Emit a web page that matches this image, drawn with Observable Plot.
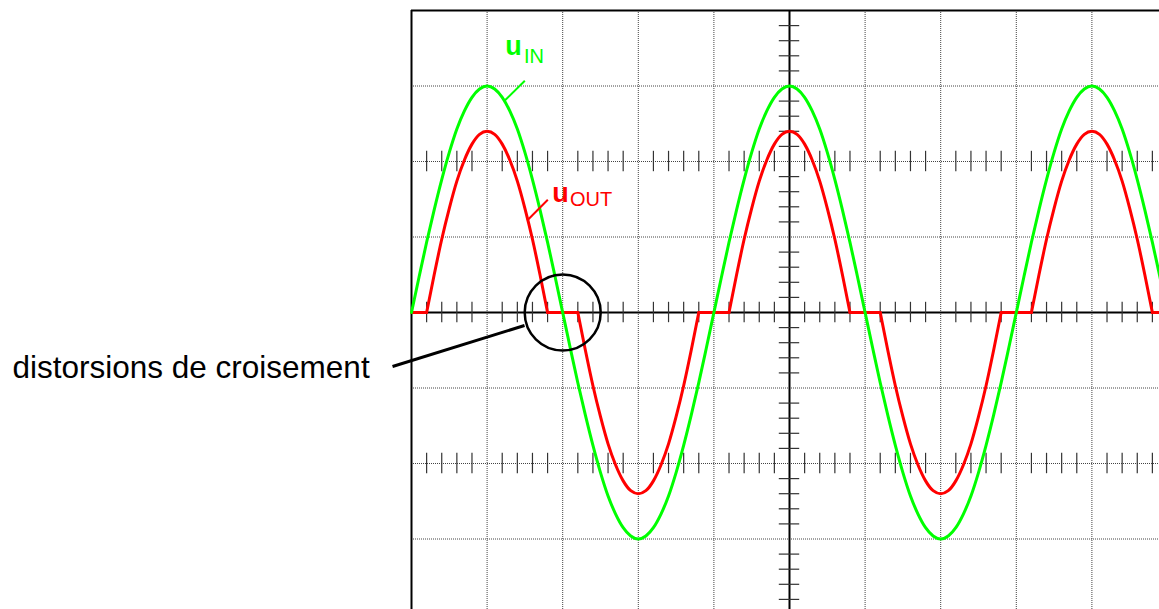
<!DOCTYPE html>
<html>
<head>
<meta charset="utf-8">
<script src="https://cdn.jsdelivr.net/npm/d3@7"></script>
<script src="https://cdn.jsdelivr.net/npm/@observablehq/plot@0.6"></script>
<style>
  html, body { margin: 0; padding: 0; background: #fff; overflow: hidden; }
  #chart svg { display: block; overflow: hidden; }
</style>
</head>
<body>
<div id="chart"></div>
<script>
// Oscilloscope screen, in divisions: input and output of a class-B push-pull stage.

// Time base (horizontal divisions)
const t = [
  0,0.1,0.2,0.3,0.4,0.5,0.6,0.7,0.8,0.9,1,1.1,1.2,1.3,1.4,1.5,1.6,1.7,1.8,1.9,
  2,2.1,2.2,2.3,2.4,2.5,2.6,2.7,2.8,2.9,3,3.1,3.2,3.3,3.4,3.5,3.6,3.7,3.8,3.9,
  4,4.1,4.2,4.3,4.4,4.5,4.6,4.7,4.8,4.9,5,5.1,5.2,5.3,5.4,5.5,5.6,5.7,5.8,5.9,
  6,6.1,6.2,6.3,6.4,6.5,6.6,6.7,6.8,6.9,7,7.1,7.2,7.3,7.4,7.5,7.6,7.7,7.8,7.9,
  8,8.1,8.2,8.3,8.4,8.5,8.6,8.7,8.8,8.9,9,9.1,9.2,9.3,9.4,9.5,9.6,9.7,9.8,9.9,10
];

// Input voltage (vertical divisions)
const uIn = [
  0,0.47,0.93,1.36,1.76,2.12,2.43,2.67,2.85,2.96,3,
  2.96,2.85,2.67,2.43,2.12,1.76,1.36,0.93,0.47,0,
  -0.47,-0.93,-1.36,-1.76,-2.12,-2.43,-2.67,-2.85,-2.96,-3,
  -2.96,-2.85,-2.67,-2.43,-2.12,-1.76,-1.36,-0.93,-0.47,0,
  0.47,0.93,1.36,1.76,2.12,2.43,2.67,2.85,2.96,3,
  2.96,2.85,2.67,2.43,2.12,1.76,1.36,0.93,0.47,0,
  -0.47,-0.93,-1.36,-1.76,-2.12,-2.43,-2.67,-2.85,-2.96,-3,
  -2.96,-2.85,-2.67,-2.43,-2.12,-1.76,-1.36,-0.93,-0.47,0,
  0.47,0.93,1.36,1.76,2.12,2.43,2.67,2.85,2.96,3,
  2.96,2.85,2.67,2.43,2.12,1.76,1.36,0.93,0.47,0
];

// Output voltage, flat around each zero crossing (crossover distortion)
const uOut = [
  0,0,0,0.5,0.97,1.38,1.74,2.02,2.23,2.36,2.4,
  2.36,2.23,2.02,1.74,1.38,0.97,0.5,0,0,0,
  0,0,-0.5,-0.97,-1.38,-1.74,-2.02,-2.23,-2.36,-2.4,
  -2.36,-2.23,-2.02,-1.74,-1.38,-0.97,-0.5,0,0,0,
  0,0,0.5,0.97,1.38,1.74,2.02,2.23,2.36,2.4,
  2.36,2.23,2.02,1.74,1.38,0.97,0.5,0,0,0,
  0,0,-0.5,-0.97,-1.38,-1.74,-2.02,-2.23,-2.36,-2.4,
  -2.36,-2.23,-2.02,-1.74,-1.38,-0.97,-0.5,0,0,0,
  0,0,0.5,0.97,1.38,1.74,2.02,2.23,2.36,2.4,
  2.36,2.23,2.02,1.74,1.38,0.97,0.5,0,0,0
];

// Graticule
const gridX = [1, 2, 3, 4, 6, 7, 8, 9];
const gridY = [-3, -2, -1, 1, 2, 3];
const centerX = 5, centerY = 0;
const frameLeft = 0, frameTop = 4;
const tickRows = [-2, 0, 2];
const minorX = d3.range(1, 50).filter(k => k % 5).map(k => k / 5);
const minorY = d3.range(-19, 20).filter(k => k % 5).map(k => k / 5);
const tickHalf = 0.135;

// Annotations (anchor points in divisions)
const labelIn = {x: 1.24, y: 3.404, sub: {x: 1.487, y: 3.311}, lead: [1.499, 3.069, 1.234, 2.808]};
const labelOut = {x: 1.862, y: 1.457, sub: {x: 2.096, y: 1.417}, lead: [1.803, 1.493, 1.530, 1.219]};
const ring = {x: 2, y: 0};
const note = {x: -5.278, y: -0.861, text: "distorsions de croisement", lead: [-0.251, -0.715, 1.495, -0.172]};

const GREEN = "#00ff00", RED = "#ff0000";
const font = "Liberation Sans, Arial, Helvetica, sans-serif";

const data = t.map((x, i) => ({
  t: x,
  uIn: uIn[i],
  uOut: uOut[i],
  // flat (clipped) stretches and conducting lobes are drawn as separate runs
  flat: uOut[i] === 0 ? 0 : NaN,
  lobe: (uOut[i] !== 0 || uOut[i - 1] || uOut[i + 1]) ? uOut[i] : NaN
}));
const marks = tickRows.flatMap(y => minorX.map(x => ({x, y})));

const chart = Plot.plot({
  width: 1159,
  height: 609,
  marginLeft: 411,
  marginRight: 0,
  marginTop: 10,
  marginBottom: 0,
  style: {background: "#fff", overflow: "hidden"},
  x: {domain: [0, 10], range: [411, 1167], axis: null},
  y: {domain: [-4, 4], range: [614, 10], axis: null},
  marks: [
    Plot.ruleX(gridX, {stroke: "#444", strokeWidth: 1, strokeDasharray: "1,1"}),
    Plot.ruleY(gridY, {stroke: "#444", strokeWidth: 1, strokeDasharray: "1,1"}),
    Plot.ruleX([frameLeft], {stroke: "#000", strokeWidth: 2}),
    Plot.ruleY([frameTop], {stroke: "#000", strokeWidth: 2}),
    Plot.ruleY([centerY], {stroke: "#000", strokeWidth: 2}),
    Plot.ruleX([centerX], {stroke: "#000", strokeWidth: 2}),
    Plot.ruleX(marks, {x: "x", y1: d => d.y - tickHalf, y2: d => d.y + tickHalf, stroke: "#333", strokeWidth: 1.2}),
    Plot.ruleY(minorY, {y: d => d, x1: centerX - tickHalf, x2: centerX + tickHalf, stroke: "#333", strokeWidth: 1.2}),
    Plot.line(data, {x: "t", y: "flat", stroke: RED, strokeWidth: 3}),
    Plot.line(data, {x: "t", y: "lobe", stroke: RED, strokeWidth: 3, curve: "monotone-x"}),
    Plot.line(data, {x: "t", y: "uIn", stroke: GREEN, strokeWidth: 3, curve: "monotone-x"}),
    Plot.link([labelIn], {x1: d => d.lead[0], y1: d => d.lead[1], x2: d => d.lead[2], y2: d => d.lead[3], stroke: GREEN, strokeWidth: 2}),
    Plot.link([labelOut], {x1: d => d.lead[0], y1: d => d.lead[1], x2: d => d.lead[2], y2: d => d.lead[3], stroke: RED, strokeWidth: 2}),
    Plot.text([labelIn], {x: "x", y: "y", text: () => "u", fill: GREEN, fontSize: 27, fontWeight: "bold", fontFamily: font, textAnchor: "start", lineAnchor: "bottom"}),
    Plot.text([labelIn], {x: d => d.sub.x, y: d => d.sub.y, text: () => "IN", fill: GREEN, fontSize: 20, fontFamily: font, textAnchor: "start", lineAnchor: "bottom"}),
    Plot.text([labelOut], {x: "x", y: "y", text: () => "u", fill: RED, fontSize: 27, fontWeight: "bold", fontFamily: font, textAnchor: "start", lineAnchor: "bottom"}),
    Plot.text([labelOut], {x: d => d.sub.x, y: d => d.sub.y, text: () => "OUT", fill: RED, fontSize: 20, fontFamily: font, textAnchor: "start", lineAnchor: "bottom"}),
    Plot.dot([ring], {x: "x", y: "y", r: 38, fill: "none", stroke: "#000", strokeWidth: 2.5}),
    Plot.link([note], {x1: d => d.lead[0], y1: d => d.lead[1], x2: d => d.lead[2], y2: d => d.lead[3], stroke: "#000", strokeWidth: 3}),
    Plot.text([note], {x: "x", y: "y", text: "text", fill: "#000", fontSize: 31.5, fontFamily: font, textAnchor: "start", lineAnchor: "bottom"})
  ]
});

document.getElementById("chart").append(chart);
</script>
</body>
</html>
